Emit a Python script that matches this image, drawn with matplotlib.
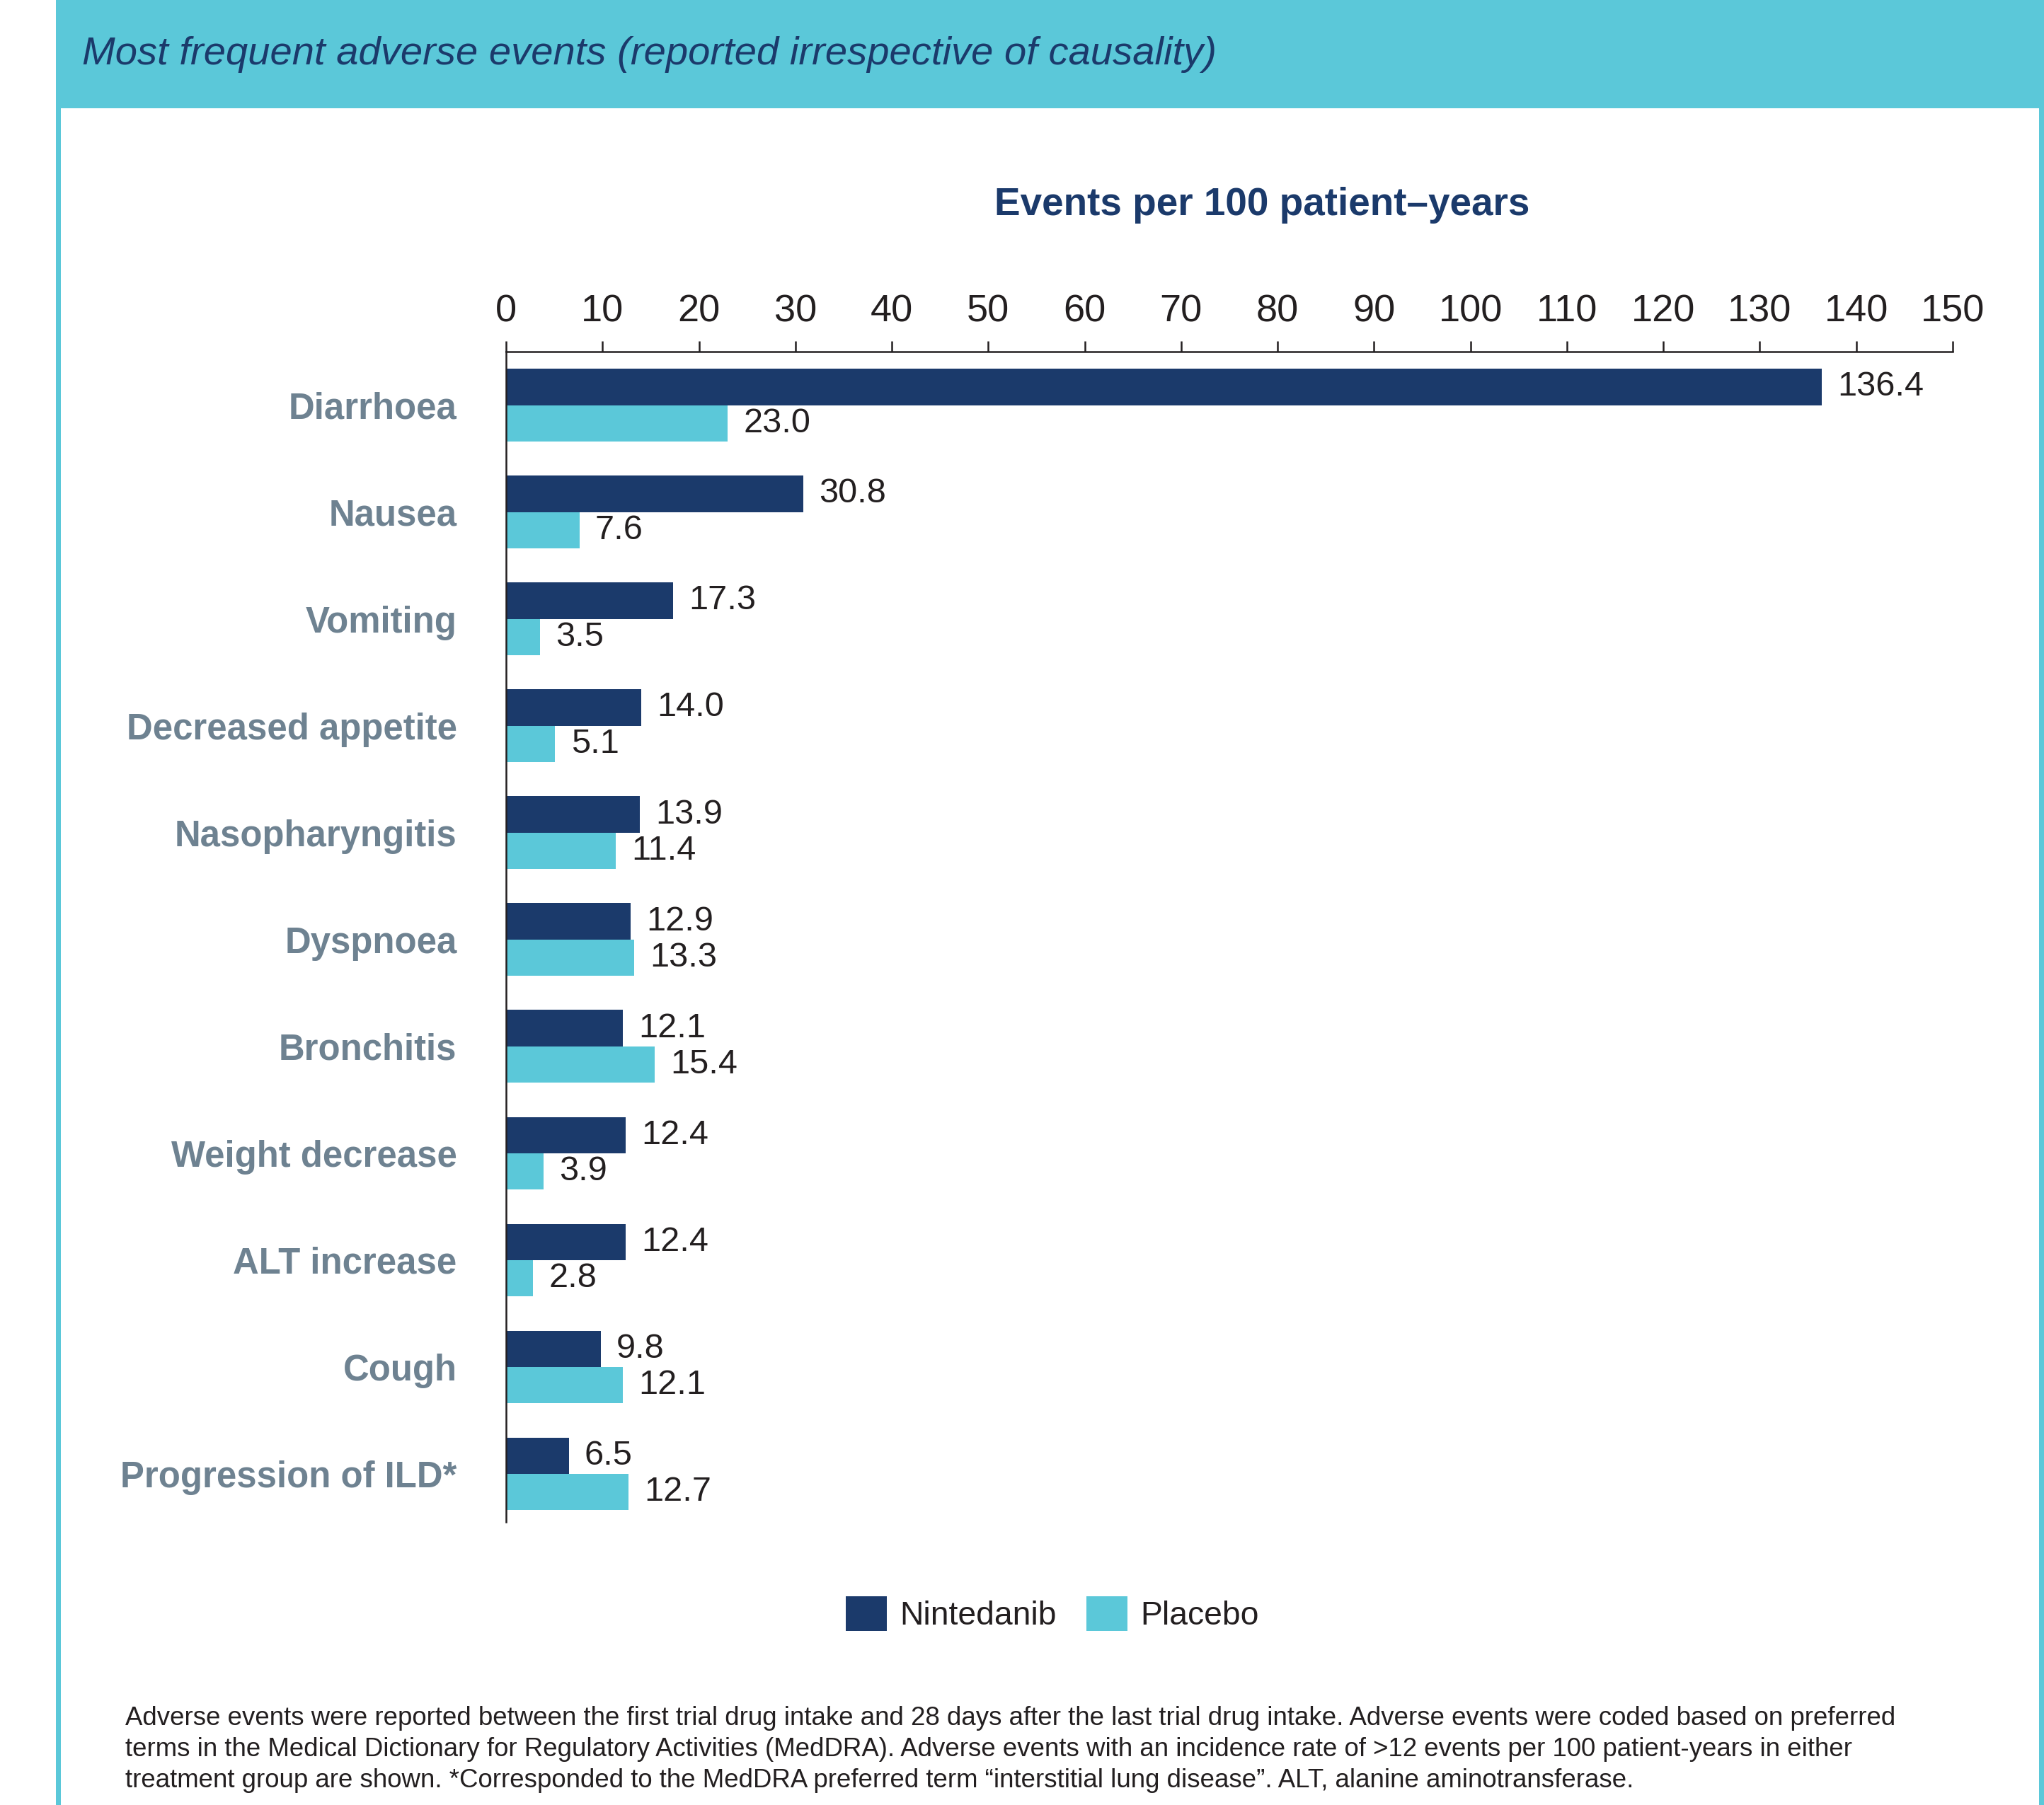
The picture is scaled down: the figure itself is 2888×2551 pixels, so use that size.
import matplotlib
matplotlib.use("Agg")
import matplotlib.pyplot as plt
from matplotlib.patches import Rectangle, Patch
import numpy as np

plt.rcParams['font.family'] = ['Liberation Sans', 'DejaVu Sans']

categories = ["Diarrhoea", "Nausea", "Vomiting", "Decreased appetite", "Nasopharyngitis",
              "Dyspnoea", "Bronchitis", "Weight decrease", "ALT increase", "Cough",
              "Progression of ILD*"]
nintedanib = [136.4, 30.8, 17.3, 14.0, 13.9, 12.9, 12.1, 12.4, 12.4, 9.8, 6.5]
placebo = [23.0, 7.6, 3.5, 5.1, 11.4, 13.3, 15.4, 3.9, 2.8, 12.1, 12.7]
series_names = ["Nintedanib", "Placebo"]
xticks = list(range(0, 151, 10))

title = "Most frequent adverse events (reported irrespective of causality)"
axis_title = "Events per 100 patient\u2013years"
footnote = ["Adverse events were reported between the first trial drug intake and 28 days after the last trial drug intake. Adverse events were coded based on preferred",
            "terms in the Medical Dictionary for Regulatory Activities (MedDRA). Adverse events with an incidence rate of >12 events per 100 patient-years in either",
            "treatment group are shown. *Corresponded to the MedDRA preferred term \u201cinterstitial lung disease\u201d. ALT, alanine aminotransferase."]

NAVY = "#1B3A6B"
CYAN = "#5BC8D9"
GREY = "#6E8291"
BLACK = "#231F20"

W, H = 2888, 2551
fig = plt.figure(figsize=(W / 100, H / 100), dpi=100)
fig.patch.set_facecolor("white")

def fx(px):
    return px / W

def fy(py):
    return 1 - py / H

# frame / header
fig.patches.append(Rectangle((fx(79), fy(153)), fx(2888) - fx(79), fy(0) - fy(153),
                             transform=fig.transFigure, facecolor=CYAN, edgecolor="none", zorder=0))
fig.patches.append(Rectangle((fx(79), 0), fx(86) - fx(79), fy(153),
                             transform=fig.transFigure, facecolor=CYAN, edgecolor="none", zorder=0))
fig.patches.append(Rectangle((fx(2881), 0), fx(2888) - fx(2881), fy(153),
                             transform=fig.transFigure, facecolor=CYAN, edgecolor="none", zorder=0))
fig.text(fx(116), fy(77), title, fontsize=40.4, style="italic", color=NAVY, ha="left", va="center")

# axes
ax = fig.add_axes([fx(715), fy(2151), fx(2759) - fx(715), fy(497) - fy(2151)])
y = np.arange(len(categories))
h = 0.34
ax.barh(y - h / 2, nintedanib, height=h, color=NAVY, label=series_names[0])
ax.barh(y + h / 2, placebo, height=h, color=CYAN, label=series_names[1])
for yi, v in zip(y, nintedanib):
    ax.annotate(f"{v:.1f}", (v, yi - h / 2), xytext=(16, 0), textcoords="offset points",
                ha="left", va="center", fontsize=35, color=BLACK)
for yi, v in zip(y, placebo):
    ax.annotate(f"{v:.1f}", (v, yi + h / 2), xytext=(16, 0), textcoords="offset points",
                ha="left", va="center", fontsize=35, color=BLACK)

ax.set_xlim(0, 150)
ax.set_ylim(len(categories) - 1 + 0.45, -0.5)
ax.set_yticks(y)
ax.set_yticklabels(categories, fontsize=36.6, fontweight="bold", color=GREY)
ax.tick_params(axis="y", length=0, pad=50)
ax.xaxis.tick_top()
ax.set_xticks(xticks)
ax.set_xticklabels([str(t) for t in xticks], fontsize=39, color=BLACK)
ax.tick_params(axis="x", direction="out", length=11, width=1.8, color=BLACK, pad=12)
for s in ["right", "bottom"]:
    ax.spines[s].set_visible(False)
for s in ["left", "top"]:
    ax.spines[s].set_linewidth(1.8)
    ax.spines[s].set_color(BLACK)
ax.set_facecolor("none")

fig.text(fx(1783), fy(290), axis_title, fontsize=39.5, fontweight="bold", color=NAVY,
         ha="center", va="center")

handles = [Patch(facecolor=NAVY, edgecolor="none"), Patch(facecolor=CYAN, edgecolor="none")]
fig.legend(handles, series_names, loc="center", bbox_to_anchor=(fx(1487), fy(2281)), ncol=2,
           frameon=False, fontsize=33.3, handlelength=1.25, handleheight=1.25,
           handletextpad=0.4, columnspacing=0.9, labelcolor=BLACK)

for i, line in enumerate(footnote):
    fig.text(fx(177), fy(2428 + 44 * i), line, fontsize=26.4, color=BLACK, ha="left", va="center")

fig.savefig("out.png", dpi=100)
